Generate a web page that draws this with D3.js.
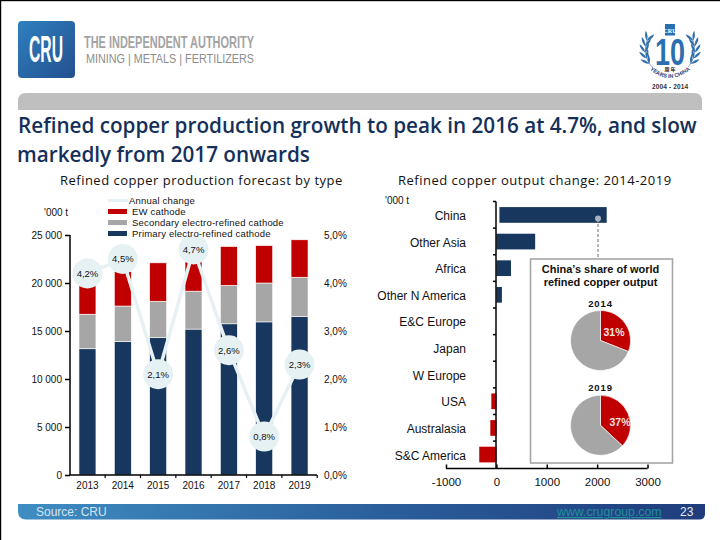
<!DOCTYPE html>
<html>
<head>
<meta charset="utf-8">
<script src="https://cdn.jsdelivr.net/npm/d3@7"></script>
<style>
  html, body { margin: 0; padding: 0; background: #fff; }
  svg { display: block; }
  text { font-family: "Liberation Sans", Arial, sans-serif; fill: #111; }
</style>
</head>
<body>
<svg id="chart" width="720" height="540"></svg>
<script>
var years = ['2013', '2014', '2015', '2016', '2017', '2018', '2019'];
var primary = [13150, 13900, 14300, 15200, 15750, 15950, 16500];
var secondary = [3600, 3700, 3800, 3950, 4000, 4050, 4100];
var ew = [3550, 3600, 4000, 4000, 4050, 3900, 3900];
var annualChange = [4.2, 4.5, 2.1, 4.7, 2.6, 0.8, 2.3];
var stackKeys = ['primary', 'secondary', 'ew'];
var leftTicks = [0, 5000, 10000, 15000, 20000, 25000];
var rightTicks = [0, 1, 2, 3, 4, 5];

var regions = ['China', 'Other Asia', 'Africa', 'Other N America', 'E&C Europe', 'Japan', 'W Europe', 'USA', 'Australasia', 'S&C America'];
var regionFrom = [60, 0, 0, 0, 0, 0, 0, 0, 0, 0];
var regionTo = [2190, 770, 290, 110, 0, 0, 0, -100, -120, -340];
var changeTicks = [-1000, 0, 1000, 2000, 3000];

var shareYears = ['2014', '2019'];
var chinaShare = [31, 37];

var navy = '#17375e', red = '#c00000', grey = '#a6a6a6', bubble = '#e6f1f4';

var svg = d3.select('#chart');
var defs = svg.append('defs');

function gradient(id, stops) {
    var g = defs.append('linearGradient').attr('id', id);
    stops.forEach(function (s) {
        g.append('stop').attr('offset', s[0]).attr('stop-color', s[1]);
    });
    return g;
}
gradient('footerFill', [['0%', '#3f8dc2'], ['55%', '#2a5d9a'], ['100%', '#1f3c7c']]);
gradient('logoFill', [['0%', '#2f80bf'], ['100%', '#24508f']])
    .attr('x1', 0).attr('y1', 0).attr('x2', 1).attr('y2', 1);

// page frame
svg.append('rect').attr('x', 0).attr('y', 0).attr('width', 720).attr('height', 1.2).attr('fill', '#000');
svg.append('rect').attr('x', 0).attr('y', 0).attr('width', 1.2).attr('height', 540).attr('fill', '#000');

// logo
svg.append('rect').attr('x', 18).attr('y', 21).attr('width', 57).attr('height', 57).attr('rx', 4).attr('fill', 'url(#logoFill)');
svg.append('text').attr('x', 29).attr('y', 62)
    .attr('textLength', 34).attr('lengthAdjust', 'spacingAndGlyphs')
    .style('font', 'bold 37px "Liberation Sans Narrow", "Liberation Sans"').style('fill', '#fff').text('CRU');
svg.append('text').attr('x', 84).attr('y', 48)
    .attr('textLength', 170).attr('lengthAdjust', 'spacingAndGlyphs')
    .style('font', 'bold 17px "Liberation Sans Narrow", "Liberation Sans"').style('fill', '#a3a3a3').text('THE INDEPENDENT AUTHORITY');
svg.append('text').attr('x', 86).attr('y', 62.5)
    .attr('textLength', 168).attr('lengthAdjust', 'spacingAndGlyphs')
    .style('font', '12.5px "Liberation Sans Narrow", "Liberation Sans"').style('fill', '#8c8c8c').text('MINING | METALS | FERTILIZERS');

// anniversary badge
var badge = svg.append('g').attr('transform', 'translate(670,50)');
var leafAngles = [68, 82, 96, 110, 124];
[-1, 1].forEach(function (side) {
    var wing = badge.append('g').attr('transform', 'scale(' + side + ',1)');
    wing.append('path').attr('d', d3.arc()({ innerRadius: 24.5, outerRadius: 25, startAngle: 60 * Math.PI / 180, endAngle: 132 * Math.PI / 180 }))
        .attr('fill', '#2f6ea8');
    leafAngles.forEach(function (a) {
        var rad = a * Math.PI / 180;
        [-28, 28].forEach(function (splay) {
            wing.append('path')
                .attr('d', 'M0,0 Q2.4,-5 0,-10 Q-2.4,-5 0,0')
                .attr('fill', '#2f6ea8')
                .attr('transform', 'translate(' + (25 * Math.sin(rad)) + ',' + (-25 * Math.cos(rad)) + ') rotate(' + (a - 90 + splay) + ')');
        });
    });
});
badge.append('rect').attr('x', -5).attr('y', -26).attr('width', 10).attr('height', 11.5).attr('fill', '#2a6fb0');
badge.append('text').attr('y', -17.5).attr('text-anchor', 'middle').style('font', 'bold 6px "Liberation Sans Narrow"').style('fill', '#fff').text('CRU');
badge.append('text').attr('y', 15).attr('text-anchor', 'middle').attr('textLength', 30).attr('lengthAdjust', 'spacingAndGlyphs')
    .style('font', 'bold 37px "Liberation Sans"').style('fill', '#2a6fb0').text('10');
badge.append('text').attr('y', 21).attr('text-anchor', 'middle').style('font', 'bold 5px "Noto Sans CJK SC"').text('周 年');
defs.append('path').attr('id', 'badgeArc').attr('d', 'M-25,15 Q0,41 25,15');
badge.append('text').style('font', 'bold 5.5px "Liberation Sans"').style('fill', '#1f3c7c')
    .append('textPath').attr('href', '#badgeArc').attr('startOffset', '50%').attr('text-anchor', 'middle').text('YEARS IN CHINA');
badge.append('text').attr('y', 38.5).attr('text-anchor', 'middle').attr('textLength', 36)
    .style('font', 'bold 6.5px "Liberation Sans"').style('fill', '#333').text('2004 - 2014');

// grey band
svg.append('path').attr('d', 'M18,110 V101 Q18,93 26,93 H694 Q702,93 702,101 V110 Z').attr('fill', '#bfbfbf');

// headline
var headFont = '600 20.7px "Open Sans"';
svg.append('text').attr('x', 18).attr('y', 133).style('font', headFont).style('fill', '#14305a').text('Refined copper production growth to peak in 2016 at 4.7%, and slow');
svg.append('text').attr('x', 17).attr('y', 162).style('font', headFont).style('fill', '#14305a').text('markedly from 2017 onwards');

var subFont = '13px "Open Sans"';
svg.append('text').attr('x', 60).attr('y', 185).style('font', subFont).style('letter-spacing', '0.48px').text('Refined copper production forecast by type');
svg.append('text').attr('x', 398).attr('y', 185).style('font', subFont).style('letter-spacing', '0.5px').text('Refined copper output change: 2014-2019');

// ---- stacked bars, left panel
var x = d3.scaleBand().domain(years).range([70, 317]).paddingInner(0.52).paddingOuter(0.254);
var y = d3.scaleLinear().domain([0, 25000]).range([475, 235]);
var yPct = d3.scaleLinear().domain([0, 5]).range([475, 235]);

var table = years.map(function (yr, i) {
    return { year: yr, primary: primary[i], secondary: secondary[i], ew: ew[i] };
});
var series = d3.stack().keys(stackKeys)(table);
var stackColour = d3.scaleOrdinal().domain(stackKeys).range([navy, grey, red]);

var barPanel = svg.append('g');
barPanel.selectAll('g.layer').data(series).enter().append('g')
    .attr('class', 'layer')
    .attr('fill', function (d) { return stackColour(d.key); })
    .selectAll('rect').data(function (d) { return d; }).enter().append('rect')
    .attr('x', function (d) { return x(d.data.year); })
    .attr('width', x.bandwidth())
    .attr('y', function (d) { return y(d[1]); })
    .attr('height', function (d) { return y(d[0]) - y(d[1]); })
    .attr('stroke', '#fff').attr('stroke-width', 0.6);

var leftAxis = d3.axisLeft(y).tickValues(leftTicks).tickSize(5)
    .tickFormat(function (d) { return d === 0 ? '0' : d3.format(',')(d).replace(',', ' '); });
var bottomAxis = d3.axisBottom(x).tickSize(0).tickPadding(7);

function styleAxis(g, size) {
    g.selectAll('path, line').attr('stroke', '#000').attr('stroke-width', 1.5);
    g.selectAll('text').style('font', size + ' "Liberation Sans"').style('fill', '#111');
}
var la = svg.append('g').attr('transform', 'translate(70,0)').call(leftAxis).call(styleAxis, '10px');
la.select('.domain').attr('d', 'M0,235V475');
var ba = svg.append('g').attr('transform', 'translate(0,475)').call(bottomAxis).call(styleAxis, '10px');
ba.select('.domain').attr('d', 'M70,0H317');
// category separators on the bottom axis
ba.selectAll('line.sep').data(years).enter().append('line')
    .attr('class', 'sep')
    .attr('x1', function (d) { return x(d) + x.bandwidth() + x.step() * 0.26; })
    .attr('x2', function (d) { return x(d) + x.bandwidth() + x.step() * 0.26; })
    .attr('y1', 0).attr('y2', 3).attr('stroke', '#000').attr('stroke-width', 1.2);

var rightAxis = d3.axisRight(yPct).tickValues(rightTicks).tickSize(0).tickPadding(7)
    .tickFormat(function (d) { return d3.format('.1f')(d).replace('.', ',') + '%'; });
var ra = svg.append('g').attr('transform', 'translate(317,0)').call(rightAxis).call(styleAxis, '10px');
ra.select('.domain').remove();

// annual change line with bubbles
var lineGen = d3.line()
    .x(function (d, i) { return x(years[i]) + x.bandwidth() / 2; })
    .y(function (d) { return yPct(d); });
svg.append('path').datum(annualChange).attr('d', lineGen).attr('fill', 'none').attr('stroke', bubble).attr('stroke-width', 3.5);
var dots = svg.selectAll('g.bubble').data(annualChange).enter().append('g')
    .attr('class', 'bubble')
    .attr('transform', function (d, i) { return 'translate(' + (x(years[i]) + x.bandwidth() / 2) + ',' + yPct(d) + ')'; });
dots.append('circle').attr('r', 15).attr('fill', bubble);
dots.append('text').attr('text-anchor', 'middle').attr('dy', '0.35em').style('font', '9.5px "Liberation Sans"')
    .text(function (d) { return d3.format('.1f')(d).replace('.', ',') + '%'; });

svg.append('text').attr('x', 44).attr('y', 216).style('font', '10px "Liberation Sans"').text("'000 t");

// legend
var legendLabels = ['EW cathode', 'Secondary electro-refined cathode', 'Primary electro-refined cathode'];
var legendColours = [red, grey, navy];
svg.append('line').attr('x1', 108).attr('x2', 128).attr('y1', 200.5).attr('y2', 200.5).attr('stroke', bubble).attr('stroke-width', 3);
svg.append('text').attr('x', 129).attr('y', 204).style('font', '9.5px "Liberation Sans"').style('letter-spacing', '0.2px').text('Annual change');
var legend = svg.selectAll('g.legend').data(legendLabels).enter().append('g')
    .attr('class', 'legend')
    .attr('transform', function (d, i) { return 'translate(108,' + (211.5 + i * 11) + ')'; });
legend.append('rect').attr('y', -2.5).attr('width', 19).attr('height', 5).attr('fill', function (d, i) { return legendColours[i]; });
legend.append('text').attr('x', 24).attr('y', 3.5).style('font', '9.5px "Liberation Sans"').style('letter-spacing', '0.2px').text(function (d) { return d; });

// ---- horizontal bars, right panel
var cx = d3.scaleLinear().domain([-1000, 3000]).range([446, 647.5]);
var cy = d3.scaleBand().domain(regions).range([201.5, 468]).paddingInner(0.41).paddingOuter(0.21);

svg.selectAll('rect.change').data(regions).enter().append('rect')
    .attr('class', 'change')
    .attr('x', function (d, i) { return cx(Math.min(regionFrom[i], regionTo[i])); })
    .attr('width', function (d, i) { return Math.abs(cx(regionTo[i]) - cx(regionFrom[i])); })
    .attr('y', function (d) { return cy(d); })
    .attr('height', cy.bandwidth())
    .attr('fill', function (d, i) { return regionTo[i] < 0 ? red : navy; });

var changeAxis = d3.axisBottom(cx).tickValues(changeTicks).tickSize(-4).tickPadding(6).tickFormat(function (d) { return String(d); });
var ca = svg.append('g').attr('transform', 'translate(0,468.5)').call(changeAxis).call(styleAxis, '11.5px');
ca.select('.domain').attr('d', 'M446,0H647.5');
ca.selectAll('text').attr('dy', '1em');

var regionAxis = d3.axisLeft(cy).tickSize(0).tickPadding(30);
var ga = svg.append('g').attr('transform', 'translate(496,0)').call(regionAxis).call(styleAxis, '12px');
ga.select('.domain').attr('d', 'M0,201.5V468');
ga.selectAll('text').attr('dy', '0.42em');
var sepY = d3.range(regions.length).map(function (i) { return 201.5 + i * cy.step(); });
ga.selectAll('line.sep').data(sepY).enter().append('line').attr('class', 'sep')
    .attr('x1', -3).attr('x2', 0)
    .attr('y1', function (d) { return d; }).attr('y2', function (d) { return d; })
    .attr('stroke', '#000').attr('stroke-width', 1.5);

svg.append('text').attr('x', 385).attr('y', 204).style('font', '10px "Liberation Sans"').text("'000 t");

// China callout
svg.append('rect').attr('x', 530.5).attr('y', 259).attr('width', 142).attr('height', 204)
    .attr('fill', '#fff').attr('stroke', grey).attr('stroke-width', 1.6);
svg.append('line').attr('x1', 598).attr('x2', 598).attr('y1', 219).attr('y2', 259)
    .attr('stroke', grey).attr('stroke-width', 1.6).attr('stroke-dasharray', '3,2');
svg.append('circle').attr('cx', 598).attr('cy', 218.5).attr('r', 3).attr('fill', '#a9b1bd');
svg.append('text').attr('x', 600.5).attr('y', 273).attr('text-anchor', 'middle').style('font', 'bold 11px "Liberation Sans"').text('China’s share of world');
svg.append('text').attr('x', 600.5).attr('y', 286).attr('text-anchor', 'middle').style('font', 'bold 11px "Liberation Sans"').text('refined copper output');

var pie = d3.pie().sort(null);
var arc = d3.arc().innerRadius(0).outerRadius(30);
var pieY = [340.5, 425.3];
shareYears.forEach(function (yr, i) {
    var g = svg.append('g').attr('transform', 'translate(600.5,' + pieY[i] + ')');
    g.selectAll('path').data(pie([chinaShare[i], 100 - chinaShare[i]])).enter().append('path')
        .attr('d', arc)
        .attr('fill', function (d, j) { return j === 0 ? red : grey; })
        .attr('stroke', '#fff').attr('stroke-width', 0.6);
    g.append('text').attr('y', -34).attr('text-anchor', 'middle')
        .style('font', 'bold 9.5px "Liberation Sans"').style('letter-spacing', '0.9px').text(yr);
    g.append('text').attr('x', i === 0 ? 13.5 : 19.5).attr('y', i === 0 ? -5 : 1).attr('text-anchor', 'middle')
        .style('font', 'bold 10.5px "Liberation Sans"').style('fill', '#f4e4e4').text(chinaShare[i] + '%');
});

// footer
svg.append('path').attr('d', 'M18,504 H705 V514 Q705,519.5 699,519.5 H26 Q18,519.5 18,511 Z').attr('fill', 'url(#footerFill)');
svg.append('text').attr('x', 36).attr('y', 516).style('font', '12px "Liberation Sans"').style('fill', '#d5e3ef').text('Source: CRU');
svg.append('text').attr('x', 557).attr('y', 516).style('font', '12.3px "Liberation Sans"').style('fill', '#1f8f9a').style('text-decoration', 'underline').text('www.crugroup.com');
svg.append('text').attr('x', 680).attr('y', 516).style('font', '12px "Liberation Sans"').style('fill', '#e4edf5').text('23');
</script>
</body>
</html>
